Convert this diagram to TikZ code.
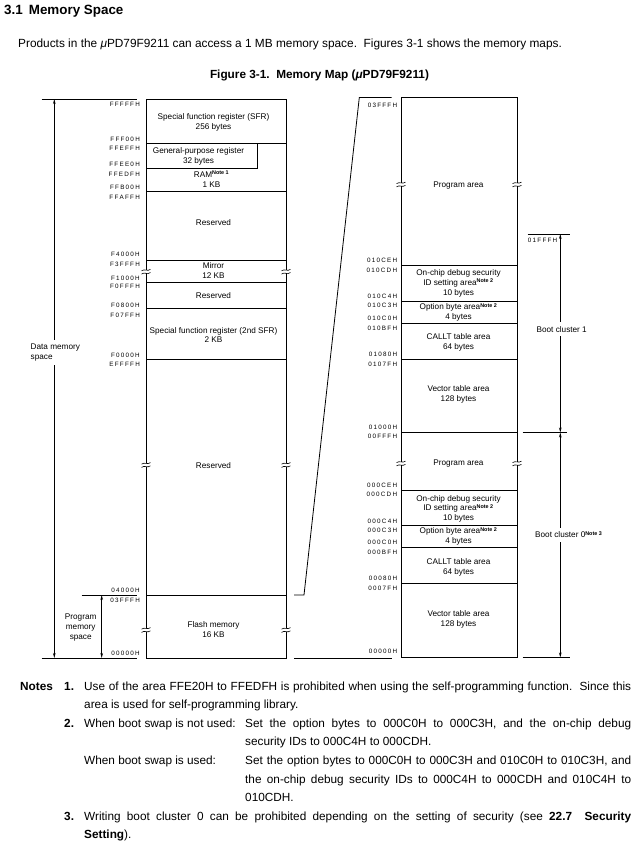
\documentclass[tikz,border=0pt]{standalone}
\usepackage{fontspec}
\setmainfont{Liberation Sans}
\usetikzlibrary{arrows.meta}
\hyphenpenalty=10000
\exhyphenpenalty=10000
\makeatletter
\newcommand\hx[1]{\hx@a#1\relax}
\def\hx@a#1#2{#1\ifx#2\relax\else\kern1.25pt\relax\expandafter\hx@a\expandafter#2\fi}
\makeatother
\newcommand\hxm[1]{\expandafter\hx\expandafter{#1}}
\newcommand\nt[1]{\smash{\textsuperscript{\bfseries\fontsize{5.4}{6}\selectfont Note #1}}}
\newcommand\brkmark[2]{%
  \fill[white] ({#1-1.4},{#2-1.6}) rectangle ({#1+1.4},{#2+1.6});
  \draw[brk] ({#1-4.5},{#2-0.8}) .. controls ({#1-1.5},{#2-3.4}) and ({#1+1.5},{#2+0.2}) .. ({#1+4.5},{#2-2.4});
  \draw[brk] ({#1-4.5},{#2+2.4}) .. controls ({#1-1.5},{#2-0.2}) and ({#1+1.5},{#2+3.4}) .. ({#1+4.5},{#2+0.8});
}
\newcommand\nsz{\fontsize{11.8}{18.6}\selectfont}
\tikzset{
  bx/.style={line width=0.8pt},
  brk/.style={line width=0.6pt},
  ad/.style={font=\fontsize{6.3}{7}\selectfont, inner sep=0pt, anchor=east},
  adw/.style={ad, anchor=west},
  tx/.style={font=\fontsize{8.2}{9.8}\selectfont, align=center, inner sep=0pt},
  wlab/.style={tx, fill=white, inner xsep=1pt, inner ysep=4pt},
  dim/.style={line width=0.7pt, {Stealth[length=5pt,width=2.6pt]}-{Stealth[length=5pt,width=2.6pt]}},
  ln/.style={line width=0.8pt},
  nb/.style={anchor=base west, inner sep=0pt, font=\nsz},
  nbb/.style={nb, font=\nsz\bfseries},
  np/.style={nb, text width=#1, align=justify},
}
\begin{document}
\begin{tikzpicture}[x=1pt,y=-1pt]
\useasboundingbox (0,0) rectangle (639,847);
\fill[white] (0,0) rectangle (639,847);

% ---------- header ----------
\node[anchor=base west, inner sep=0pt, font=\fontsize{13.4}{15}\selectfont\bfseries] (head) at (4,14.7) {3.1\hspace{0.45em}Memory Space};
\node[anchor=base west, inner sep=0pt, font=\fontsize{11.85}{14}\selectfont] (intro) at (18,47.2) {Products in the {\itshape μ}PD79F9211 can access a 1 MB memory space.\ \ Figures 3-1 shows the memory maps.};
\node[anchor=base, inner sep=0pt, font=\fontsize{11.8}{14}\selectfont\bfseries] (ftitle) at (319.5,78.2) {Figure 3-1.\ \ Memory Map ({\itshape μ}PD79F9211)};

% ---------- left column ----------
\draw[bx] (146,99) rectangle (286,658);
\draw[bx] (146,143.5) -- (286,143.5);
\draw[bx] (146,168.5) -- (257,168.5) -- (257,143.5);
\foreach \y in {191,260,282,308.5,359,595} \draw[bx] (146,\y) -- (286,\y);
\foreach \y in {271.7,465,630} {\brkmark{146}{\y}\brkmark{286}{\y}}

\node[tx] (sfr) at (213.5,122.2) {Special function register (SFR)\\256 bytes};
\node[tx] (gpr) at (198.5,156.2) {General-purpose register\\32 bytes};
\node[tx] (ram) at (211.5,179.7) {RAM\nt{1}\\1 KB};
\node[tx] (res1) at (213.5,222.3) {Reserved};
\node[tx] (mir) at (213.5,270.7) {Mirror\\12 KB};
\node[tx] (res2) at (213.5,295.3) {Reserved};
\node[tx] (sfr2) at (213.5,335) {Special function register (2nd SFR)\\2 KB};
\node[tx] (res3) at (213.5,465.7) {Reserved};
\node[tx] (flash) at (213.5,629.3) {Flash memory\\16 KB};

\foreach \t/\y in {FFFFFH/104,FFF00H/139,FFEFFH/148,FFEE0H/164,FFEDFH/174,FFB00H/187,FFAFFH/197.7,F4000H/254.7,F3FFFH/264.7,F1000H/278.7,F0FFFH/286.7,F0800H/305.7,F07FFH/315.3,F0000H/355.3,EFFFFH/364.3,04000H/590,03FFFH/600.7,00000H/653.3}
  \node[ad] (l\t) at (140,\y) {\hxm{\t}};

% space arrows on the left
\coordinate (lt1) at (41.7,99);   \coordinate (lt2) at (136.7,99);
\coordinate (lb1) at (41.7,658);  \coordinate (lb2) at (136.7,658);
\coordinate (lm1) at (81.7,595);  \coordinate (lm2) at (136.7,595);
\draw[ln] (lt1) -- (lt2);
\draw[ln] (lb1) -- (lb2);
\draw[ln] (lm1) -- (lm2);
\coordinate (dmT) at (54.3,99);  \coordinate (dmB) at (54.3,658);
\draw[dim] (dmT) -- (dmB);
\node[wlab, anchor=west, align=left] (dms) at (29.5,352.3) {Data memory\\space};
\coordinate (pmT) at (101.7,595); \coordinate (pmB) at (101.7,658);
\draw[dim] (pmT) -- (pmB);
\node[tx] (pms) at (80.7,627.3) {Program\\memory\\space};

% ---------- expansion lines ----------
\coordinate (z1) at (294,595);
\coordinate (z2) at (304,595);
\coordinate (z3) at (359.3,97.5);
\coordinate (z4) at (391.7,97.5);
\coordinate (z5) at (294,658);
\coordinate (z6) at (391.7,658);
\draw[ln] (z1) -- (z2) -- (z3) -- (z4);
\draw[ln] (z5) -- (z6);

% ---------- right column ----------
\draw[bx] (401,97.5) rectangle (517,657.5);
\foreach \y in {265,301,323,359,432.5,490.5,525.5,547.5,583.5} \draw[bx] (401,\y) -- (517,\y);
\foreach \y in {184.5,463.5} {\brkmark{401}{\y}\brkmark{517}{\y}}

\node[tx] (prog1) at (458.5,185.7) {Program area};
\node[tx] (ocd1) at (458.5,283.5) {On-chip debug security\\ID setting area\nt{2}\\10 bytes};
\node[tx] (opt1) at (458.5,312.7) {Option byte area\nt{2}\\4 bytes};
\node[tx] (callt1) at (458.5,342.3) {CALLT table area\\64 bytes};
\node[tx] (vec1) at (458.5,394) {Vector table area\\128 bytes};
\node[tx] (prog0) at (458.5,464) {Program area};
\node[tx] (ocd0) at (458.5,508.7) {On-chip debug security\\ID setting area\nt{2}\\10 bytes};
\node[tx] (opt0) at (458.5,536.7) {Option byte area\nt{2}\\4 bytes};
\node[tx] (callt0) at (458.5,567.3) {CALLT table area\\64 bytes};
\node[tx] (vec0) at (458.5,619) {Vector table area\\128 bytes};

\foreach \t/\y in {03FFFH/105,010CEH/260.7,010CDH/270.7,010C4H/296.3,010C3H/305.7,010C0H/318.3,010BFH/328.3,01080H/354,0107FH/364,01000H/427.3,00FFFH/436.7,000CEH/485,000CDH/494,000C4H/521,000C3H/530.7,000C0H/542.7,000BFH/552,00080H/578.3,0007FH/588.3,00000H/651.7}
  \node[ad] (r\t) at (397.3,\y) {\hxm{\t}};

% boot clusters
\coordinate (c1a) at (527.7,234);   \coordinate (c1b) at (570,234);
\coordinate (c2a) at (522.7,432.5); \coordinate (c2b) at (566.7,432.5);
\coordinate (c3a) at (522.7,657.5); \coordinate (c3b) at (570,657.5);
\draw[ln] (c1a) -- (c1b);
\draw[ln] (c2a) -- (c2b);
\draw[ln] (c3a) -- (c3b);
\node[adw] (r01FFFH) at (527.7,240) {\hx{01FFFH}};
\coordinate (bc1T) at (560.3,234);   \coordinate (bc1B) at (560.3,432.5);
\coordinate (bc0T) at (560.3,432.5); \coordinate (bc0B) at (560.3,657.5);
\draw[dim] (bc1T) -- (bc1B);
\draw[dim] (bc0T) -- (bc0B);
\node[wlab] (bc1) at (561.7,329.3) {Boot cluster 1};
\node[wlab, anchor=west] (bc0) at (534,535) {Boot cluster 0\nt{3}};

% ---------- notes ----------
\node[nbb] (notes) at (20,690) {Notes};
\node[nbb] (n1) at (64,690) {1.};
\node[np=547pt] (n1t) at (84,690) {Use of the area FFE20H to FFEDFH is prohibited when using the self-programming function.\ \ Since this\linebreak area is used for self-programming library.};
\node[nbb] (n2) at (64,727.2) {2.};
\node[nb] (n2a) at (84,727.2) {When boot swap is not used:};
\node[np=386pt] (n2b) at (245,727.2) {Set the option bytes to 000C0H to 000C3H, and the on-chip debug\linebreak security IDs to 000C4H to 000CDH.};
\node[nb] (n2c) at (84,764.4) {When boot swap is used:};
\node[np=386pt] (n2d) at (245,764.4) {Set the option bytes to 000C0H to 000C3H and 010C0H to 010C3H, and\linebreak the on-chip debug security IDs to 000C4H to 000CDH and 010C4H to\linebreak 010CDH.};
\node[nbb] (n3) at (64,820.2) {3.};
\node[np=547pt] (n3t) at (84,820.2) {Writing boot cluster 0 can be prohibited depending on the setting of security (see \textbf{22.7\ \ Security}\linebreak \textbf{Setting}).};
\end{tikzpicture}
\end{document}
